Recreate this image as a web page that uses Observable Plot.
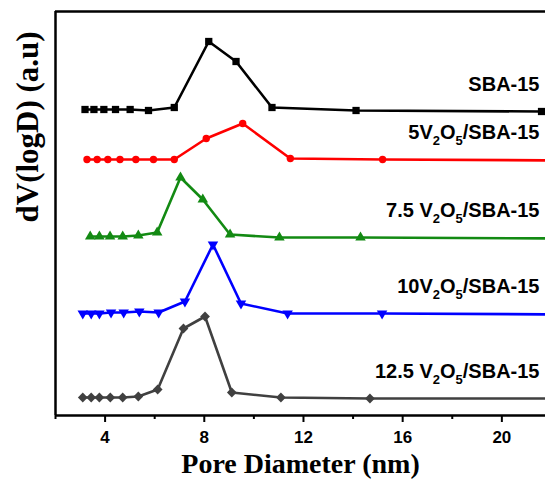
<!DOCTYPE html>
<html><head><meta charset="utf-8">
<script src="https://cdn.jsdelivr.net/npm/d3@7"></script>
<script src="https://cdn.jsdelivr.net/npm/@observablehq/plot@0.6"></script>
<style>body{margin:0;background:#fff} #chart{width:545px;height:481px;overflow:hidden}</style>
</head><body><div id="chart"></div>
<script>
// ---- data (y in arbitrary units, stacked offsets) ----
const seriesNames = ["SBA-15", "5V2O5/SBA-15", "7.5 V2O5/SBA-15", "10V2O5/SBA-15", "12.5 V2O5/SBA-15"];
const xSBA   = [3.19, 3.55, 3.95, 4.42, 5.01, 5.75, 6.79, 8.18, 9.28, 10.73, 14.12, 21.6];
const ySBA   = [3.06, 3.06, 3.06, 3.06, 3.06, 3.05, 3.08, 3.74, 3.54, 3.08, 3.05, 3.04];
const x5V    = [3.27, 3.68, 4.11, 4.60, 5.24, 5.95, 6.79, 8.08, 9.55, 11.47, 15.19, 23.0];
const y5V    = [2.56, 2.56, 2.56, 2.56, 2.56, 2.56, 2.56, 2.77, 2.92, 2.57, 2.56, 2.55];
const x75V   = [3.40, 3.77, 4.20, 4.71, 5.34, 6.10, 7.04, 7.94, 9.04, 11.03, 14.30, 23.0];
const y75V   = [1.79, 1.79, 1.79, 1.79, 1.80, 1.83, 2.38, 2.16, 1.81, 1.78, 1.78, 1.77];
const x10V   = [3.10, 3.44, 3.77, 4.24, 4.75, 5.38, 6.16, 7.22, 8.35, 9.48, 11.36, 15.17, 23.0];
const y10V   = [1.02, 1.02, 1.02, 1.03, 1.03, 1.04, 1.03, 1.14, 1.71, 1.12, 1.02, 1.02, 1.01];
const x125V  = [3.10, 3.44, 3.77, 4.21, 4.71, 5.34, 6.12, 7.16, 8.03, 9.11, 11.09, 14.68, 23.0];
const y125V  = [0.18, 0.18, 0.18, 0.18, 0.18, 0.19, 0.26, 0.87, 0.99, 0.23, 0.18, 0.17, 0.17];
const xMajorTicks = [4, 8, 12, 16, 20];
const xMinorTicks = [2, 6, 10, 14, 18];
const xDomain = [2, 21.76];
const yDomain = [0, 4.04];

const colors  = ["#000000", "#ff0000", "#138a13", "#0000ff", "#404040"];
const symbols = ["square", "circle", "triangle", "triangle", "square"];
const rotates = [0, 0, 0, 180, 45];
const radii   = [4.1, 3.7, 3.9, 3.9, 3.9];

const xs = [xSBA, x5V, x75V, x10V, x125V];
const ys = [ySBA, y5V, y75V, y10V, y125V];
const rows = seriesNames.flatMap((name, i) => xs[i].map((x, j) => ({name, i, x, y: ys[i][j]})));
const labels = seriesNames.map((name, i) => {
  const vis = xs[i].map((x, j) => ({x, y: ys[i][j]})).filter(d => d.x <= xDomain[1]);
  return {name, x: xDomain[1], y: vis[vis.length - 1].y};
});

const marks = [];
seriesNames.forEach((name, i) => {
  const data = rows.filter(d => d.i === i);
  marks.push(Plot.line(data, {x: "x", y: "y", stroke: colors[i], strokeWidth: 2.6, clip: true}));
  marks.push(Plot.dot(data.filter(d => d.x <= xDomain[1]), {x: "x", y: "y", fill: colors[i], stroke: "none",
    symbol: symbols[i], rotate: rotates[i], r: radii[i]}));
});

const chart = Plot.plot({
  width: 545, height: 481,
  marginLeft: 55, marginRight: 0, marginTop: 11, marginBottom: 66,
  style: {fontFamily: "'Liberation Sans', Arial, sans-serif", fontSize: "17px", fontWeight: "bold", color: "#000", background: "#fff"},
  x: {domain: xDomain, axis: null},
  y: {domain: yDomain, axis: null},
  marks: [
    ...marks,
    Plot.axisX({ticks: xMinorTicks, tickSize: 4, tickFormat: () => "", strokeWidth: 2, label: null}),
    Plot.axisX({ticks: xMajorTicks, tickSize: 7, tickPadding: 8, strokeWidth: 2, label: null, fontSize: 17, fontWeight: "bold"}),
    Plot.ruleY([yDomain[0]], {stroke: "#000", strokeWidth: 2.5}),
    Plot.ruleY([yDomain[1]], {stroke: "#000", strokeWidth: 2.5}),
    Plot.ruleX([xDomain[0]], {stroke: "#000", strokeWidth: 2.5}),
    Plot.text(labels, {x: "x", y: "y", text: "name", textAnchor: "end", dx: -6, dy: -27,
      fontSize: 20, fontWeight: "bold", fontFamily: "'Liberation Sans', Arial, sans-serif", fill: "#000"}),
    Plot.text(["Pore Diameter (nm)"], {text: d => d, frameAnchor: "bottom", dy: 57, fontSize: 28,
      fontWeight: "bold", fontFamily: "'Liberation Serif', 'Times New Roman', serif", fill: "#000"}),
    Plot.text(["dV(logD) (a.u)"], {text: d => d, frameAnchor: "left", dx: -27, dy: 9, rotate: -90, fontSize: 31,
      fontWeight: "bold", fontFamily: "'Liberation Serif', 'Times New Roman', serif", fill: "#000"})
  ]
});

// subscripts in the V2O5 labels
d3.select(chart).selectAll("text").each(function () {
  const s = this.textContent;
  const m = s.match(/^(.*V)2(O)5(.*)$/);
  if (!m) return;
  const t = d3.select(this);
  t.text(null);
  t.append("tspan").text(m[1]);
  t.append("tspan").attr("dy", 6).attr("font-size", 13).text("2");
  t.append("tspan").attr("dy", -6).text(m[2]);
  t.append("tspan").attr("dy", 6).attr("font-size", 13).text("5");
  t.append("tspan").attr("dy", -6).text(m[3]);
});

document.getElementById("chart").appendChild(chart);
</script>
</body></html>
